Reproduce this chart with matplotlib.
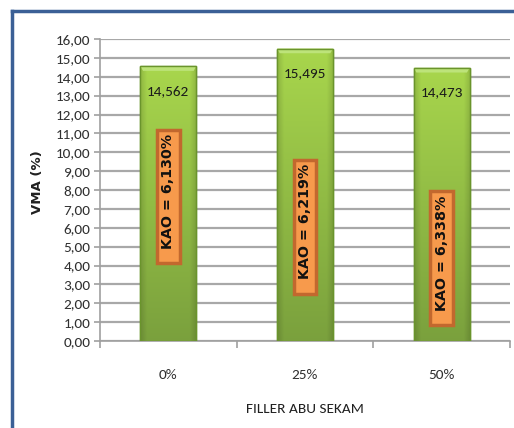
import numpy as np
import matplotlib
matplotlib.use('Agg')
import matplotlib.pyplot as plt
from matplotlib.lines import Line2D

# data
categories = ['0%', '25%', '50%']
vma = [14.562, 15.495, 14.473]
vma_labels = ['14,562', '15,495', '14,473']
kao_labels = ['KAO = 6,130%', 'KAO = 6,219%', 'KAO = 6,338%']
kao_ypos = [7.65, 6.05, 4.40]
yticks = np.arange(0, 17, 1)

narrow = ['Carlito', 'Liberation Sans Narrow', 'DejaVu Sans']
wide = ['Verdana', 'DejaVu Sans']

fig = plt.figure(figsize=(5.14, 4.28), dpi=100)
ax = fig.add_axes([100/514, 1-341/428, 410/514, 302/428])

x = np.arange(len(categories))

ax.set_ylim(0, 16)
ax.set_xlim(-0.5, 2.5)
ax.set_yticks(yticks)
ax.set_yticklabels([f"{v:.2f}".replace('.', ',') for v in yticks],
                   family=narrow, fontsize=11, color='#303030')
ax.yaxis.grid(True, color='#a8a8a8', linewidth=1.6)
ax.set_axisbelow(True)

bars = ax.bar(x, vma, width=0.41, color='#93c142', edgecolor='#6a942c',
              linewidth=1.0, zorder=3)

# shading: bright lime at the top fading to olive, darker near the sides
ny, nx = 128, 64
top = np.array([0.66, 0.84, 0.30])
bot = np.array([0.48, 0.63, 0.24])
t = np.linspace(0, 1, ny)[:, None, None]
col = top * (1 - t) + bot * t
u = np.linspace(0, 1, nx)
side = 1 - 0.14 * np.clip(1 - np.minimum(u, 1 - u) / 0.12, 0, 1)
shade_img = np.clip(col * side[None, :, None], 0, 1)

for b in bars:
    x0, y0 = b.get_x(), b.get_y()
    w, h = b.get_width(), b.get_height()
    im = ax.imshow(shade_img, extent=[x0, x0 + w, y0, y0 + h], aspect='auto',
                   origin='upper', zorder=3.1, interpolation='bilinear')
    im.set_clip_path(b)
    # light bevel along the top edge
    ax.fill([x0, x0 + w, x0 + w - 0.02, x0 + 0.02],
            [y0 + h, y0 + h, y0 + h - 0.25, y0 + h - 0.25],
            color='#bde37a', zorder=3.2, linewidth=0)
    ax.bar(x0 + w / 2, h, width=w, fill=False, edgecolor='#6a942c',
           linewidth=1.0, zorder=3.3)

for i in range(len(categories)):
    ax.text(x[i], vma[i] - 1.3, vma_labels[i], ha='center', va='center',
            family=narrow, fontsize=11, color='#1a1a1a', zorder=5)
    ax.text(x[i], kao_ypos[i], '  ' + kao_labels[i], rotation=90,
            ha='center', va='center', fontsize=10.3, fontweight='bold',
            family=wide, color='#111111', zorder=5,
            bbox=dict(boxstyle='square,pad=0.3', facecolor='#f79a4c',
                      edgecolor='#c2682e', linewidth=2.5))

ax.set_xticks(x)
ax.set_xticklabels(categories, family=narrow, fontsize=11, color='#303030')
ax.set_xticks(np.arange(-0.5, 3, 1), minor=True)
ax.tick_params(axis='x', which='major', length=0, pad=20)
ax.tick_params(axis='x', which='minor', length=5, color='#a0a0a0', width=1.2)
ax.tick_params(axis='y', length=4, color='#a0a0a0', width=1.2, pad=3)

for s in ['top', 'right']:
    ax.spines[s].set_visible(False)
for s in ['left', 'bottom']:
    ax.spines[s].set_color('#a0a0a0')
    ax.spines[s].set_linewidth(1.2)

ax.set_xlabel('FILLER ABU SEKAM', family=narrow, fontsize=11,
              color='#202020', labelpad=16)
fig.text(37/514, 1-182/428, 'VMA (%)', rotation=90, ha='center', va='center',
         fontsize=9.5, fontweight='bold', family=wide, color='#202020')

# outer frame
fig.add_artist(Line2D([12/514, 12/514], [0, 1-11/428], color='#3b6096',
                      linewidth=2.5, transform=fig.transFigure))
fig.add_artist(Line2D([12/514, 1], [1-11/428, 1-11/428], color='#3b6096',
                      linewidth=2.5, transform=fig.transFigure))

fig.savefig('out.png', dpi=100)
